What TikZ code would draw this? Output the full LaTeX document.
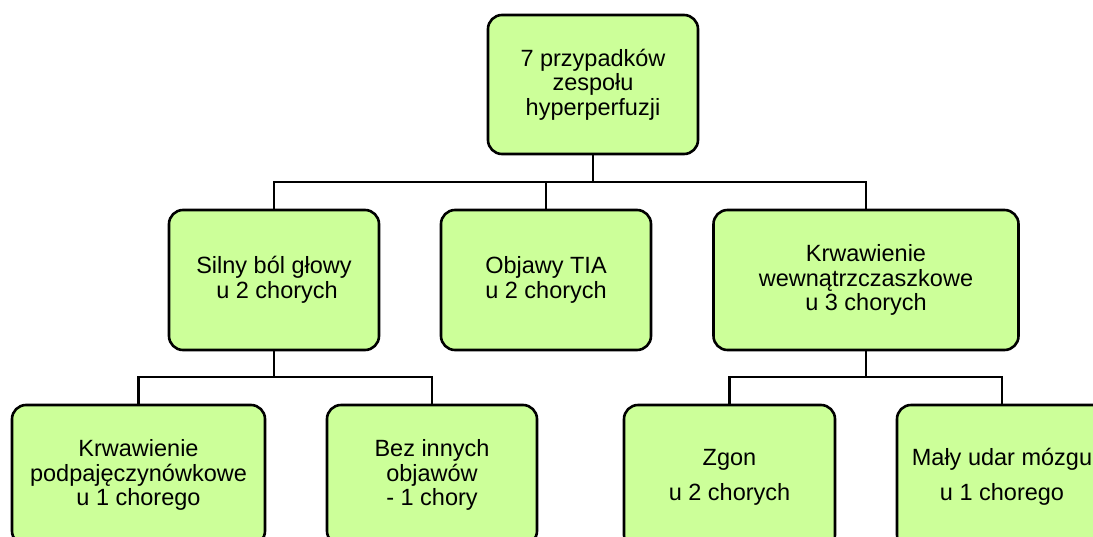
\documentclass[tikz,border=0pt]{standalone}
\usepackage{fontspec}
\setmainfont{Liberation Sans}
\definecolor{boxgreen}{HTML}{CCFF99}
\begin{document}
\begin{tikzpicture}[x=1pt,y=-1pt,
  box/.style={draw=black, fill=boxgreen, line width=2.6pt, rounded corners=14pt,
    inner sep=0pt, minimum height=140pt, align=center,
    font=\fontsize{23.5}{24.5}\selectfont},
  link/.style={draw=black, line width=2.6pt}]
\useasboundingbox (0,0) rectangle (1093,536);
\clip (0,0) rectangle (1093,536);
\node[box, minimum width=210pt, minimum height=139pt] (top) at (593,84.5) {7 przypadków\\zespołu\\hyperperfuzji};
\node[box, minimum width=210pt] (silny) at (274,280) {Silny ból głowy\\\hspace*{6pt}u 2 chorych};
\node[box, minimum width=210pt] (objawy) at (546,280) {Objawy TIA\\u 2 chorych};
\node[box, minimum width=305pt] (krw) at (866,280) {Krwawienie\\wewnątrzczaszkowe\\u 3 chorych};
\node[box, minimum width=253pt] (kp) at (138.5,475) {Krwawienie\\podpajęczynówkowe\\u 1 chorego};
\node[box, minimum width=210pt] (bez) at (432,475) {Bez innych\\objawów\\- 1 chory};
\node[box, minimum width=211pt, minimum height=144pt] (zgon) at (729.5,477) {Zgon\\[10.5pt]u 2 chorych};
\node[box, minimum width=210pt, minimum height=144pt] (maly) at (1002,477) {Mały udar mózgu\\[10.5pt]u 1 chorego};
\coordinate (j1) at (593,182);
\coordinate (j2) at (274,377);
\coordinate (j3) at (866,377);
\draw[link] (top.south) -- (j1);
\draw[link] (silny.north) |- (j1) -| (krw.north);
\draw[link] (objawy.north) -- (objawy.north |- j1);
\draw[link] (silny.south) -- (j2);
\draw[link] (kp.north) |- (j2) -| (bez.north);
\draw[link] (krw.south) -- (j3);
\draw[link] (zgon.north) |- (j3) -| (maly.north);
\end{tikzpicture}
\end{document}
